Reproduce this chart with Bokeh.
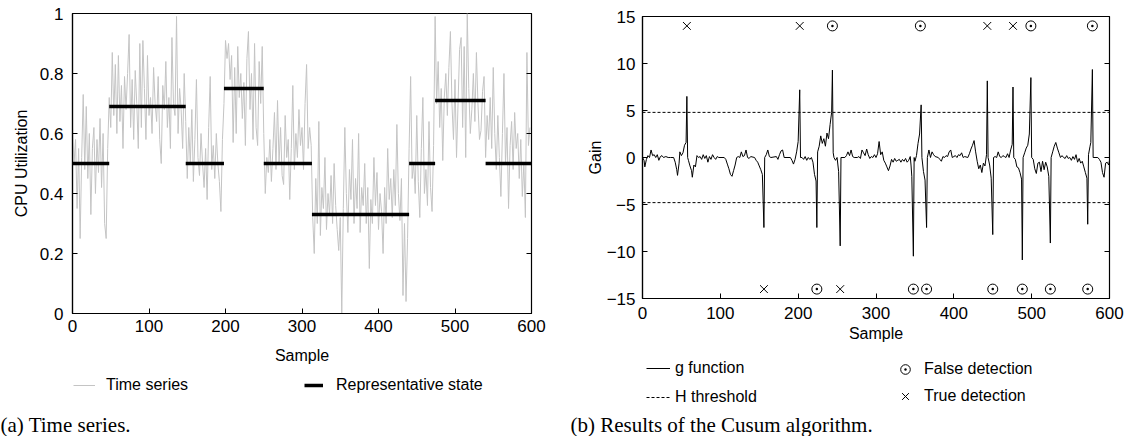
from bokeh.plotting import figure
from bokeh.models import Range1d, LinearAxis, Legend, LegendItem, Label, FixedTicker
from bokeh.layouts import row, column
from bokeh.embed import file_html
from bokeh.resources import INLINE

# ---------------- data: panel (a) ----------------
cpu_samples = list(range(0, 600, 2))
cpu_values = [
    # 0-46
    0.62, 0.50, 0.58, 0.35, 0.55, 0.25, 0.52, 0.73, 0.48, 0.69, 0.45, 0.60, 0.33, 0.55, 0.62, 0.40,
    0.58, 0.47, 0.65, 0.42, 0.60, 0.30, 0.25, 0.55,
    # 48-146
    0.72, 0.62, 0.87, 0.66, 0.83, 0.60, 0.86, 0.64, 0.76, 0.55, 0.79, 0.68, 0.80, 0.93, 0.62, 0.78,
    0.58, 0.81, 0.70, 0.55, 0.90, 0.62, 0.91, 0.75, 0.58, 0.86, 0.66, 0.72, 0.60, 0.82, 0.70, 0.64,
    0.79, 0.58, 0.50, 0.76, 0.68, 0.84, 0.62, 0.72, 0.55, 0.92, 0.70, 0.66, 0.99, 0.60, 0.75, 0.68,
    0.55, 0.80,
    # 148-196
    0.64, 0.45, 0.62, 0.50, 0.68, 0.44, 0.58, 0.78, 0.52, 0.46, 0.60, 0.50, 0.42, 0.55, 0.38, 0.62,
    0.79, 0.48, 0.56, 0.45, 0.60, 0.50, 0.44, 0.34, 0.58,
    # 198-248
    0.70, 0.91, 0.85, 0.90, 0.78, 0.86, 0.57, 0.82, 0.60, 0.89, 0.72, 0.80, 0.65, 0.77, 0.56, 0.85,
    0.94, 0.68, 0.80, 0.58, 0.90, 0.62, 0.56, 0.84, 0.70, 0.89,
    # 250-312
    0.60, 0.40, 0.52, 0.47, 0.58, 0.44, 0.55, 0.67, 0.48, 0.71, 0.50, 0.62, 0.46, 0.43, 0.66, 0.52,
    0.58, 0.38, 0.55, 0.76, 0.48, 0.60, 0.52, 0.68, 0.56, 0.62, 0.48, 0.70, 0.83, 0.55, 0.62, 0.56,
    # 314-438
    0.32, 0.20, 0.45, 0.30, 0.64, 0.26, 0.42, 0.35, 0.52, 0.28, 0.40, 0.33, 0.46, 0.30, 0.50, 0.36,
    0.28, 0.21, 0.32, 0.00, 0.35, 0.62, 0.40, 0.27, 0.48, 0.38, 0.58, 0.30, 0.45, 0.35, 0.60, 0.27,
    0.42, 0.36, 0.50, 0.30, 0.42, 0.15, 0.38, 0.30, 0.52, 0.36, 0.47, 0.28, 0.40, 0.34, 0.20, 0.42,
    0.30, 0.55, 0.38, 0.45, 0.32, 0.48, 0.36, 0.63, 0.40, 0.31, 0.45, 0.06, 0.30, 0.04, 0.25,
    # 440-472
    0.55, 0.79, 0.45, 0.50, 0.40, 0.66, 0.44, 0.32, 0.55, 0.72, 0.40, 0.48, 0.36, 0.64, 0.42, 0.34,
    0.56,
    # 474-538
    0.99, 0.70, 0.84, 0.62, 0.75, 0.51, 0.72, 0.80, 0.66, 0.82, 0.94, 0.70, 0.58, 0.78, 0.52, 0.70,
    0.88, 0.92, 0.62, 0.89, 0.52, 1.00, 0.75, 0.60, 0.68, 0.80, 0.64, 0.87, 0.70, 0.58, 0.61, 0.74,
    0.79,
    # 540-598
    0.52, 0.66, 0.58, 0.72, 0.55, 0.82, 0.60, 0.48, 0.66, 0.52, 0.39, 0.60, 0.80, 0.50, 0.62, 0.35,
    0.56, 0.64, 0.48, 0.67, 0.55, 0.60, 0.45, 0.58, 0.39, 0.50, 0.32, 0.87, 0.56, 0.62,
]
state_start = [0, 48, 148, 198, 250, 313, 440, 474, 540]
state_end = [48, 148, 198, 250, 313, 440, 474, 540, 600]
state_level = [0.50, 0.69, 0.50, 0.75, 0.50, 0.33, 0.50, 0.71, 0.50]

sample_ticks = [0, 100, 200, 300, 400, 500, 600]
cpu_ticks = [0, 0.2, 0.4, 0.6, 0.8, 1]
cpu_tick_labels = ["0", "0.2", "0.4", "0.6", "0.8", "1"]

# ---------------- data: panel (b) ----------------
g_samples = [
    0, 2, 3, 5, 7, 9, 11, 13, 15, 17, 19, 21, 23, 25, 27, 30, 33, 36, 40, 42, 44, 45, 47, 48, 50, 52,
    54, 56, 57, 58, 59, 61, 63, 64, 66, 68, 70, 72, 74, 76, 78, 80, 82, 84, 86, 88, 90, 92, 94, 96,
    98, 105, 107, 109, 111, 113, 115, 117, 119, 121, 123, 125, 127, 129, 131, 133, 135, 137, 139,
    144, 146, 148, 150, 152, 154, 156, 157, 159, 161, 163, 165, 172, 174, 176, 178, 180, 182, 190,
    192, 194, 196, 198, 200, 202, 203, 205, 207, 209, 211, 213, 215, 217, 219, 221, 223, 224, 225,
    227, 229, 231, 233, 235, 237, 239, 241, 243, 244, 245, 246, 248, 250, 252, 254, 255, 260, 262,
    264, 266, 268, 270, 272, 276, 278, 280, 282, 284, 286, 288, 290, 292, 294, 296, 298, 300, 302,
    304, 306, 308, 310, 312, 314, 316, 318, 320, 322, 324, 326, 328, 330, 332, 334, 336, 338, 340,
    342, 344, 345, 346, 348, 349, 350, 352, 354, 356, 358, 359, 361, 363, 365, 366, 368, 370, 372,
    374, 376, 380, 382, 384, 386, 388, 390, 392, 394, 396, 398, 400, 402, 404, 406, 408, 410, 412,
    414, 418, 420, 422, 424, 426, 428, 430, 432, 434, 436, 438, 440, 442, 443, 444, 446, 448, 450,
    451, 453, 455, 457, 459, 461, 463, 465, 467, 469, 471, 473, 475, 476, 477, 479, 481, 483, 485,
    487, 488, 489, 491, 493, 495, 497, 499, 500, 502, 504, 506, 508, 510, 512, 514, 516, 518, 520,
    522, 524, 525, 527, 529, 531, 533, 535, 537, 539, 541, 543, 545, 547, 549, 551, 553, 555, 557,
    559, 561, 563, 565, 567, 569, 571, 572, 573, 575, 576, 578, 579, 585, 587, 589, 591, 593, 595,
    597, 599, 600,
]
g_values = [
    0.0, -0.3, -1.0, -0.2, 0.2, 0.0, 0.8, 0.2, 0.3, 0.0, 0.3, -0.3, 0.1, 0.2, 0.0, 0.1, 0.0, 0.0, 0.0,
    -0.5, -1.3, -1.9, -0.6, 0.6, 0.2, 0.5,
    1.3, 1.6, 6.5, 0.0, -0.3, -0.9, -1.4, -2.1, -0.8, -1.0, 0.2, 0.0, 0.1, -0.2, 0.3, -0.1, 0.2, -0.5,
    0.1, -0.2, 0.3, 0.0, -0.2, 0.1,
    0.0, 0.0, -0.2, -0.7, -1.2, -1.8, -2.0, -1.4, -0.8, 0.0, 0.1, 0.0, 0.6, 0.1, 0.2, 0.8, 0.0, -0.1,
    0.1,
    0.0, -0.3, -0.5, -0.9, -1.3, -1.8, -7.45, 0.0, 0.3, 0.8, 0.1, 0.0, 0.1, -0.2, 0.3, 0.7, 0.8, 0.0,
    0.0,
    -0.3, -0.7, -0.2, 0.6, 1.7, 7.2, 0.0, 0.0, -0.2, 0.1, -0.3, 0.0, -0.2, 0.0, -0.5, -1.8, -2.5,
    -7.45, 0.6,
    1.2, 2.3, 1.5, 2.0, 1.2, 2.6, 2.0, 3.5, 4.8, 9.3, 0.5, 0.0, -0.3, 0.0, -1.5, -9.4, 0.0, 0.0, 0.2,
    0.6, 0.2, 0.8, 0.1, 0.0, 0.0, 0.1, -0.1, 0.8, 0.5, 0.2, 0.9, 0.3, -0.1, 0.1, 0.0, 0.3, 0.0, 0.4,
    1.7, 0.3, 0.6, -0.3, -0.6, -1.0, -1.4, -0.9, -0.2, -0.5, -0.1, -0.4, -0.3, -0.2, -0.5, -0.2, -0.4,
    -0.1, -0.5,
    -0.3, 0.1, -0.8, -2.0, -10.5, 0.0, -0.4, 0.2, 1.5, 2.5, 5.6, 0.0, -1.5, -2.4, -7.45, 0.0, 0.8, 0.0,
    0.6,
    0.3, 0.1, 0.0, -0.2, -0.4, 0.1, 0.0, 0.2, 0.1, 0.6, 0.8, 0.0, 0.1, 0.2, 0.0, 0.3, 0.2, 0.5, 0.0,
    0.1, 0.0, 0.4, 0.9, 1.3, 1.8, 0.6, -0.4, -1.2, -0.8, -1.6, -0.6, -0.9, 0.3, 8.15, 0.0, -0.8, -2.2,
    -8.2,
    0.0, 0.1, 0.0, 0.6, 0.1, 0.0, 0.2, 0.1, 0.0, 0.4, 0.0, 0.8, 1.4, 7.5, 0.0, -0.2, -1.0, -1.1, -1.6,
    -2.3, -10.9, 0.0, 0.5, 1.0, 1.3, 2.5, 8.5, 0.0, -0.2, -1.2, -1.7, -0.6, -0.5, -1.5, -0.4, -1.3,
    -0.5, -1.0,
    -2.0, -9.1, 0.0, 0.6, 1.2, 1.6, 1.0, 0.5, 0.0, 0.2, 0.0, -0.1, 0.2, -0.1, 0.0, -0.3, 0.1, -0.2, 0.3,
    -0.5, -0.1, -0.6, -0.4, -1.0, -1.6, -2.2, -7.1, 0.3, 1.2, 1.6, 9.36, 0.0, 0.0, -0.2, -0.5, -1.6,
    -2.1, -0.6,
    -0.5, -0.8, -0.3,
]
h_threshold = 4.8
sample_span = [0, 600]
marker_top = 14
marker_bottom = -14
true_top = [57, 202, 443, 476]
false_top = [244, 357, 499, 578]
true_bottom = [156, 254]
false_bottom = [224, 348, 365, 450, 488, 524, 572]
gain_ticks = [-15, -10, -5, 0, 5, 10, 15]

SANS = "Liberation Sans"
SERIF = "Liberation Serif"


def no_align(p):
    if "frame_align" in p.properties():
        p.frame_align = False


def style(p, xticks, yticks, tick_std_x, lab_std_x, tick_std_y, lab_std_y):
    p.grid.visible = False
    p.outline_line_color = "black"
    p.outline_line_width = 1.2
    for ax in p.xaxis + p.yaxis:
        ax.major_tick_in = 5
        ax.major_tick_out = 0
        ax.minor_tick_line_color = None
        ax.axis_line_color = "black"
        ax.axis_line_width = 1.2
        ax.major_tick_line_width = 1
        ax.major_label_text_font = SANS
        ax.major_label_text_font_size = "17px"
        ax.major_label_text_color = "black"
        ax.axis_label_text_font = SANS
        ax.axis_label_text_font_size = "16px"
        ax.axis_label_text_font_style = "normal"
        ax.axis_label_text_color = "black"
    p.xaxis.ticker = FixedTicker(ticks=xticks)
    p.yaxis.ticker = FixedTicker(ticks=yticks)
    p.xaxis.major_label_standoff = tick_std_x
    p.xaxis.axis_label_standoff = lab_std_x
    p.yaxis.major_label_standoff = tick_std_y
    p.yaxis.axis_label_standoff = lab_std_y
    rax = LinearAxis(ticker=FixedTicker(ticks=yticks), major_label_text_color=None,
                     major_tick_in=5, major_tick_out=0, minor_tick_line_color=None,
                     axis_line_color=None, major_label_standoff=0)
    p.add_layout(rax, "right")
    no_align(p)


def key_figure(width, height):
    # legend/caption strip; its proxy renderers are hidden, only their legend glyphs show
    k = figure(width=width, height=height, x_range=Range1d(0, 600), y_range=Range1d(100, 101),
               output_backend="svg", toolbar_location=None, min_border=0,
               x_axis_location=None, y_axis_location=None)
    k.grid.visible = False
    k.outline_line_color = None
    no_align(k)
    return k


def legend(items, x, y, glyph_w, glyph_h, standoff, spacing):
    return Legend(items=items, location=(x, y), orientation="vertical",
                  border_line_color=None, background_fill_alpha=0, padding=0, margin=0,
                  inactive_fill_alpha=0,
                  label_text_font=SANS, label_text_font_size="16px", label_text_color="black",
                  glyph_width=glyph_w, glyph_height=glyph_h, label_height=glyph_h,
                  label_standoff=standoff, spacing=spacing)


def caption(text, y):
    return Label(x=0, y=y, x_units="screen", y_units="screen", text=text,
                 text_font=SERIF, text_font_size="21px", text_baseline="middle",
                 text_color="black")


# ---------------- panel (a) ----------------
p1 = figure(width=570, height=370, x_range=Range1d(0, 600), y_range=Range1d(0, 1),
            output_backend="svg", toolbar_location=None,
            min_border_left=72, min_border_right=39, min_border_top=13, min_border_bottom=57,
            x_axis_label="Sample", y_axis_label="CPU Utilization")
p1.line(cpu_samples, cpu_values, line_color="#c4c4c4", line_width=1)
p1.segment(x0=state_start, y0=state_level, x1=state_end, y1=state_level,
           line_color="black", line_width=3.5)
style(p1, sample_ticks, cpu_ticks, 6, 12, 9, 7)
p1.yaxis[0].major_label_overrides = {t: s for t, s in zip(cpu_ticks, cpu_tick_labels)}

k1 = key_figure(570, 66)
k_ts = k1.line(cpu_samples, cpu_values, line_color="#c4c4c4", line_width=1, visible=False)
k_st = k1.segment(x0=state_start, y0=state_level, x1=state_end, y1=state_level,
                  line_color="black", line_width=3.5, visible=False)
k1.add_layout(legend([LegendItem(label="Time series", renderers=[k_ts])], 73, 42, 22, 16, 11, 0))
k1.add_layout(legend([LegendItem(label="Representative state", renderers=[k_st])], 304, 42, 19, 16, 13, 0))
k1.add_layout(caption("(a) Time series.", 12))

# ---------------- panel (b) ----------------
p2 = figure(width=567, height=350, x_range=Range1d(0, 600), y_range=Range1d(-15, 15),
            output_backend="svg", toolbar_location=None,
            min_border_left=72, min_border_right=28, min_border_top=16, min_border_bottom=52,
            x_axis_label="Sample", y_axis_label="Gain")
p2.line(g_samples, g_values, line_color="black", line_width=1)
p2.line(sample_span, [h_threshold, h_threshold], line_color="black", line_width=1, line_dash="3 2")
p2.line(sample_span, [-h_threshold, -h_threshold], line_color="black", line_width=1, line_dash="3 2")
p2.scatter(false_top, [marker_top] * len(false_top), marker="circle_dot", size=10,
           line_color="black", fill_color=None, line_width=1)
p2.scatter(false_bottom, [marker_bottom] * len(false_bottom), marker="circle_dot", size=10,
           line_color="black", fill_color=None, line_width=1)
p2.scatter(true_top, [marker_top] * len(true_top), marker="x", size=11,
           line_color="black", line_width=1)
p2.scatter(true_bottom, [marker_bottom] * len(true_bottom), marker="x", size=11,
           line_color="black", line_width=1)
style(p2, sample_ticks, gain_ticks, 8, 3, 7, 0)

k2 = key_figure(567, 86)
k_g = k2.line(g_samples, g_values, line_color="black", line_width=1, visible=False)
k_h = k2.line(sample_span, [h_threshold, h_threshold], line_color="black", line_width=1,
              line_dash="3 2", visible=False)
k_f = k2.scatter(false_top, [marker_top] * len(false_top), marker="circle_dot", size=10,
                 line_color="black", fill_color=None, line_width=1, visible=False)
k_t = k2.scatter(true_top, [marker_top] * len(true_top), marker="x", size=11,
                 line_color="black", line_width=1, visible=False)
k2.add_layout(legend([LegendItem(label="g function", renderers=[k_g]),
                      LegendItem(label="H threshold", renderers=[k_h])], 76, 30, 24, 16, 5, 11))
k2.add_layout(legend([LegendItem(label="False detection", renderers=[k_f]),
                      LegendItem(label="True detection", renderers=[k_t])], 323, 28, 24, 24, 7, 3))
k2.add_layout(caption("(b) Results of the Cusum algorithm.", 12))

layout = row(column(p1, k1), column(p2, k2))
open("out.html", "w").write(file_html(layout, INLINE))
